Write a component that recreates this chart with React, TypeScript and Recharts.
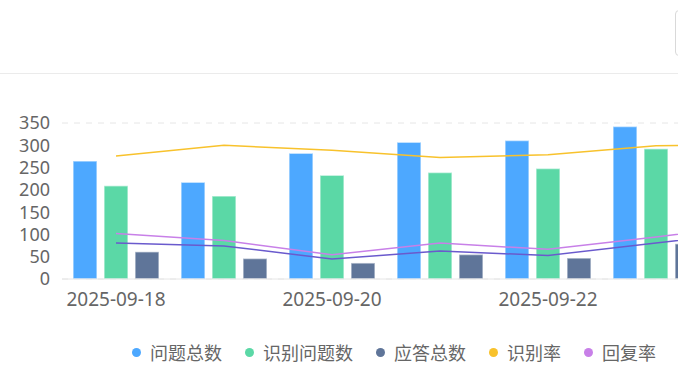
import React from "react";
import {
  Bar,
  CartesianGrid,
  ComposedChart,
  Legend,
  Line,
  XAxis,
  YAxis,
} from "recharts";

const dates = [
  "2025-09-18",
  "2025-09-19",
  "2025-09-20",
  "2025-09-21",
  "2025-09-22",
  "2025-09-23",
  "2025-09-24",
];
const questionTotal = [265, 217, 282, 307, 311, 342, 330];
const recognizedTotal = [209, 186, 233, 239, 248, 292, 285];
const answerTotal = [61, 46, 36, 55, 47, 79, 100];
const recognizeRate = [78.9, 85.7, 82.6, 77.9, 79.7, 85.4, 86.0];
const replyRate = [29.2, 24.7, 15.5, 23.0, 19.0, 27.0, 35.5];
const answerRate = [23.0, 21.2, 12.8, 17.9, 15.1, 23.1, 31.0];
const countTicks = [0, 50, 100, 150, 200, 250, 300, 350];

const rows = dates.map((d, i) => ({
  date: d,
  questionTotal: questionTotal[i],
  recognizedTotal: recognizedTotal[i],
  answerTotal: answerTotal[i],
  recognizeRate: recognizeRate[i],
  replyRate: replyRate[i],
  answerRate: answerRate[i],
}));

const SERIES = [
  { key: "questionTotal", name: "问题总数", color: "#4da8ff" },
  { key: "recognizedTotal", name: "识别问题数", color: "#5bd8a6" },
  { key: "answerTotal", name: "应答总数", color: "#5f7599" },
  { key: "recognizeRate", name: "识别率", color: "#f8c22c" },
  { key: "replyRate", name: "回复率", color: "#c880e8" },
  { key: "answerRate", name: "应答率", color: "#6a5acd" },
];

const FONT = '"Noto Sans CJK SC", "Noto Sans", sans-serif';
const NUM_FONT = '"Noto Sans", "Noto Sans CJK SC", sans-serif';

function LegendRow() {
  return (
    <div style={{ display: "flex", alignItems: "center", height: 24, fontFamily: FONT }}>
      {SERIES.map(s => (
        <div key={s.key} style={{ display: "flex", alignItems: "center", marginRight: 23 }}>
          <span
            style={{
              width: 9,
              height: 9,
              borderRadius: "50%",
              background: s.color,
              marginRight: 9,
              display: "inline-block",
            }}
          />
          <span style={{ fontSize: 18, color: "#666", whiteSpace: "nowrap" }}>{s.name}</span>
        </div>
      ))}
    </div>
  );
}

export default function App() {
  return (
    <div
      style={{
        position: "absolute",
        left: 0,
        top: 0,
        width: 678,
        height: 381,
        overflow: "hidden",
        background: "#fff",
      }}
    >
      <ComposedChart
        width={877}
        height={381}
        data={rows}
        margin={{ top: 123, right: 59, bottom: 17, left: 0 }}
        barGap={7}
      >
        <CartesianGrid vertical={false} stroke="#e6e6e6" strokeDasharray="6 6" />
        <XAxis
          dataKey="date"
          height={61}
          interval={1}
          tickLine={false}
          axisLine={{ stroke: "#e6e6e6", strokeWidth: 1 }}
          tickMargin={8}
          tick={{ fill: "#666", fontSize: 19, fontFamily: NUM_FONT }}
        />
        <YAxis
          yAxisId="count"
          width={62}
          domain={[0, 350]}
          ticks={countTicks}
          interval={0}
          axisLine={false}
          tickLine={false}
          tickMargin={6}
          tick={{ fill: "#666", fontSize: 18, fontFamily: NUM_FONT }}
        />
        <YAxis yAxisId="rate" orientation="right" domain={[0, 100]} hide />
        <Legend
          verticalAlign="bottom"
          content={() => <LegendRow />}
          wrapperStyle={{ left: 132, bottom: 17 }}
        />
        {SERIES.slice(0, 3).map(s => (
          <Bar
            key={s.key}
            yAxisId="count"
            dataKey={s.key}
            name={s.name}
            fill={s.color}
            stroke="rgba(255,255,255,0.55)"
            strokeWidth={1.5}
            barSize={24}
            isAnimationActive={false}
          />
        ))}
        {SERIES.slice(3).map(s => (
          <Line
            key={s.key}
            yAxisId="rate"
            type="linear"
            dataKey={s.key}
            name={s.name}
            stroke={s.color}
            strokeWidth={1.5}
            dot={false}
            activeDot={false}
            isAnimationActive={false}
          />
        ))}
      </ComposedChart>
      <div
        style={{
          position: "absolute",
          left: 0,
          top: 73,
          width: 678,
          height: 1,
          background: "#ebebeb",
        }}
      />
      <div
        style={{
          position: "absolute",
          left: 675,
          top: 10,
          width: 120,
          height: 44,
          border: "1px solid #d9d9d9",
          borderRadius: 4,
        }}
      />
    </div>
  );
}
